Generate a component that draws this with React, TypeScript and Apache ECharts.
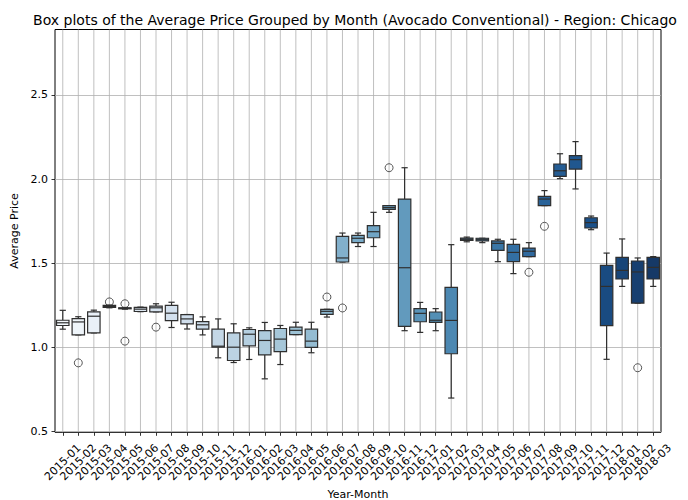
import React, { useEffect, useRef } from "react";
import * as echarts from "echarts";

const months = [
  "2015-01","2015-02","2015-03","2015-04","2015-05","2015-06","2015-07","2015-08","2015-09","2015-10","2015-11","2015-12",
  "2016-01","2016-02","2016-03","2016-04","2016-05","2016-06","2016-07","2016-08","2016-09","2016-10","2016-11","2016-12",
  "2017-01","2017-02","2017-03","2017-04","2017-05","2017-06","2017-07","2017-08","2017-09","2017-10","2017-11","2017-12",
  "2018-01","2018-02","2018-03",
];

const whiskerLow = [
  1.109, 1.075, 1.087, 1.236, 1.228, 1.213, 1.212, 1.119, 1.110, 1.075, 0.939, 0.911,
  0.929, 0.814, 0.899, 1.077, 0.969, 1.181, 1.508, 1.600, 1.600, 1.803, 1.100, 1.090,
  1.100, 0.700, 1.628, 1.623, 1.510, 1.439, 1.540, 1.843, 2.003, 1.942, 1.700, 0.930,
  1.363, 1.264, 1.363,
];
const quartile1 = [
  1.131, 1.075, 1.087, 1.238, 1.230, 1.214, 1.212, 1.160, 1.140, 1.109, 1.002, 0.923,
  1.010, 0.956, 0.976, 1.077, 1.001, 1.197, 1.508, 1.623, 1.652, 1.821, 1.126, 1.153,
  1.149, 0.963, 1.637, 1.633, 1.577, 1.510, 1.540, 1.843, 2.017, 2.060, 1.710, 1.130,
  1.407, 1.264, 1.407,
];
const medians = [
  1.147, 1.152, 1.186, 1.244, 1.233, 1.228, 1.236, 1.204, 1.170, 1.135, 1.008, 1.002,
  1.079, 1.042, 1.050, 1.102, 1.038, 1.215, 1.532, 1.649, 1.688, 1.831, 1.474, 1.203,
  1.162, 1.161, 1.643, 1.643, 1.619, 1.565, 1.572, 1.882, 2.050, 2.116, 1.742, 1.363,
  1.458, 1.449, 1.476,
];
const quartile3 = [
  1.162, 1.172, 1.212, 1.250, 1.236, 1.238, 1.246, 1.250, 1.196, 1.154, 1.109, 1.087,
  1.107, 1.101, 1.113, 1.121, 1.109, 1.227, 1.660, 1.666, 1.724, 1.843, 1.882, 1.231,
  1.211, 1.357, 1.650, 1.649, 1.633, 1.613, 1.591, 1.898, 2.090, 2.140, 1.771, 1.488,
  1.536, 1.514, 1.536,
];
const whiskerHigh = [
  1.221, 1.183, 1.222, 1.252, 1.238, 1.240, 1.260, 1.269, 1.196, 1.182, 1.170, 1.141,
  1.117, 1.149, 1.131, 1.150, 1.150, 1.227, 1.680, 1.680, 1.803, 1.843, 2.068, 1.268,
  1.231, 1.611, 1.656, 1.649, 1.643, 1.643, 1.623, 1.932, 2.151, 2.223, 1.781, 1.561,
  1.645, 1.532, 1.540,
];

// outliers: [month index, value]
const outlierMonth = [1, 3, 4, 4, 6, 17, 18, 21, 30, 31, 37];
const outlierValue = [0.909, 1.271, 1.260, 1.038, 1.121, 1.300, 1.235, 2.068, 1.447, 1.720, 0.880];

const yTicks = [0.5, 1.0, 1.5, 2.0, 2.5];

const BLUES = ["#f7fbff", "#deebf7", "#c6dbef", "#9ecae1", "#6baed6", "#4292c6", "#2171b5", "#08519c", "#08306b"];

function hexToRgb(h: string): number[] {
  return [1, 3, 5].map((i) => parseInt(h.slice(i, i + 2), 16) / 255);
}
function bluesAt(t: number): number[] {
  const p = t * 8;
  const i = Math.min(7, Math.floor(p));
  const f = p - i;
  const a = hexToRgb(BLUES[i]);
  const b = hexToRgb(BLUES[i + 1]);
  return a.map((v, k) => v + (b[k] - v) * f);
}
function desaturate(rgb: number[], prop: number): string {
  const [r, g, b] = rgb;
  const mx = Math.max(r, g, b);
  const mn = Math.min(r, g, b);
  const l = (mx + mn) / 2;
  let h = 0;
  let s = 0;
  if (mx !== mn) {
    const d = mx - mn;
    s = l <= 0.5 ? d / (mx + mn) : d / (2 - mx - mn);
    if (mx === r) h = ((g - b) / d) % 6;
    else if (mx === g) h = (b - r) / d + 2;
    else h = (r - g) / d + 4;
    h /= 6;
    if (h < 0) h += 1;
  }
  s *= prop;
  const q = l < 0.5 ? l * (1 + s) : l + s - l * s;
  const pp = 2 * l - q;
  const hue = (t: number) => {
    if (t < 0) t += 1;
    if (t > 1) t -= 1;
    if (t < 1 / 6) return pp + (q - pp) * 6 * t;
    if (t < 1 / 2) return q;
    if (t < 2 / 3) return pp + (q - pp) * (2 / 3 - t) * 6;
    return pp;
  };
  const out = s === 0 ? [l, l, l] : [hue(h + 1 / 3), hue(h), hue(h - 1 / 3)];
  return (
    "#" +
    out
      .map((v) => Math.round(Math.max(0, Math.min(1, v)) * 255).toString(16).padStart(2, "0"))
      .join("")
  );
}

const n = months.length;
const boxColors = months.map((_, i) => desaturate(bluesAt((i + 1) / (n + 1)), 0.75));

const LINE = "#2f2f2f";
const FONT = "DejaVu Sans";

export default function App() {
  const ref = useRef<HTMLDivElement>(null);

  useEffect(() => {
    if (!ref.current) return;
    const chart = echarts.init(ref.current, undefined, { renderer: "svg" });

    const boxData = months.map((_, i) => [
      i,
      whiskerLow[i],
      quartile1[i],
      medians[i],
      quartile3[i],
      whiskerHigh[i],
    ]);
    const outlierData = outlierMonth.map((m, i) => [m, outlierValue[i]]);

    const renderItem = (params: any, api: any) => {
      const idx = api.value(0);
      const lo = api.coord([idx, api.value(1)]);
      const q1 = api.coord([idx, api.value(2)]);
      const md = api.coord([idx, api.value(3)]);
      const q3 = api.coord([idx, api.value(4)]);
      const hi = api.coord([idx, api.value(5)]);
      const band = api.size([1, 0])[0];
      const bw = band * 0.8;
      const cw = bw * 0.5;
      const x = lo[0];
      const cs = params.coordSys;
      const lineStyle = { stroke: LINE, lineWidth: 1.2, fill: null };
      return {
        type: "group",
        children: [
          {
            type: "line",
            shape: { x1: x, y1: cs.y, x2: x, y2: cs.y + cs.height },
            style: { stroke: "#b0b0b0", lineWidth: 0.8 },
            silent: true,
          },
          { type: "line", shape: { x1: x, y1: hi[1], x2: x, y2: q3[1] }, style: lineStyle },
          { type: "line", shape: { x1: x, y1: q1[1], x2: x, y2: lo[1] }, style: lineStyle },
          { type: "line", shape: { x1: x - cw / 2, y1: hi[1], x2: x + cw / 2, y2: hi[1] }, style: lineStyle },
          { type: "line", shape: { x1: x - cw / 2, y1: lo[1], x2: x + cw / 2, y2: lo[1] }, style: lineStyle },
          {
            type: "rect",
            shape: { x: x - bw / 2, y: q3[1], width: bw, height: Math.max(0.5, q1[1] - q3[1]) },
            style: { fill: boxColors[idx], stroke: LINE, lineWidth: 1.2 },
          },
          { type: "line", shape: { x1: x - bw / 2, y1: md[1], x2: x + bw / 2, y2: md[1] }, style: lineStyle },
        ],
      };
    };

    chart.setOption({
      animation: false,
      backgroundColor: "#ffffff",
      textStyle: { fontFamily: FONT },
      title: {
        text: "Box plots of the Average Price Grouped by Month (Avocado Conventional) - Region: Chicago",
        left: 350,
        top: 8,
        textAlign: "center",
        textStyle: { fontFamily: FONT, fontSize: 14, fontWeight: "normal", color: "#000" },
      },
      grid: {
        left: 55,
        top: 29.5,
        right: 27,
        bottom: 67.7,
        outerBoundsMode: "none",
        containLabel: false,
        show: true,
        borderColor: "#000",
        borderWidth: 1,
        backgroundColor: "#fff",
      },
      xAxis: {
        type: "category",
        data: months,
        boundaryGap: true,
        name: "Year-Month",
        nameLocation: "middle",
        nameGap: 56,
        nameTextStyle: { fontFamily: FONT, fontSize: 11, color: "#000" },
        axisLine: { show: false },
        axisTick: { show: true, alignWithLabel: true, length: 3.5, lineStyle: { color: "#000", width: 0.8 } },
        axisLabel: {
          interval: 0,
          rotate: 45,
          align: "center",
          verticalAlign: "middle",
          margin: 30,
          fontFamily: FONT,
          fontSize: 11,
          color: "#000",
        },
        splitLine: { show: false },
      },
      yAxis: {
        type: "value",
        min: 0.4965,
        max: 2.889,
        name: "Average Price",
        nameLocation: "middle",
        nameGap: 33,
        nameTextStyle: { fontFamily: FONT, fontSize: 11, color: "#000" },
        axisLine: { show: false },
        axisTick: { show: true, customValues: yTicks, length: 3.5, lineStyle: { color: "#000", width: 0.8 } },
        axisLabel: {
          customValues: yTicks,
          formatter: (v: number) => v.toFixed(1),
          margin: 7,
          fontFamily: FONT,
          fontSize: 11,
          color: "#000",
        },
        splitLine: { show: true, lineStyle: { color: "#b0b0b0", width: 0.8 } },
      },
      series: [
        {
          type: "custom",
          renderItem,
          data: boxData,
          encode: { x: 0, y: [1, 2, 3, 4, 5] },
          z: 2,
        },
        {
          type: "scatter",
          data: outlierData,
          symbol: "circle",
          symbolSize: 8,
          itemStyle: { color: "rgba(0,0,0,0)", borderColor: LINE, borderWidth: 1 },
          z: 3,
        },
      ],
    });

    return () => chart.dispose();
  }, []);

  return (
    <div
      ref={ref}
      style={{ position: "fixed", left: 0, top: 0, width: 688, height: 500, background: "#fff" }}
    />
  );
}
